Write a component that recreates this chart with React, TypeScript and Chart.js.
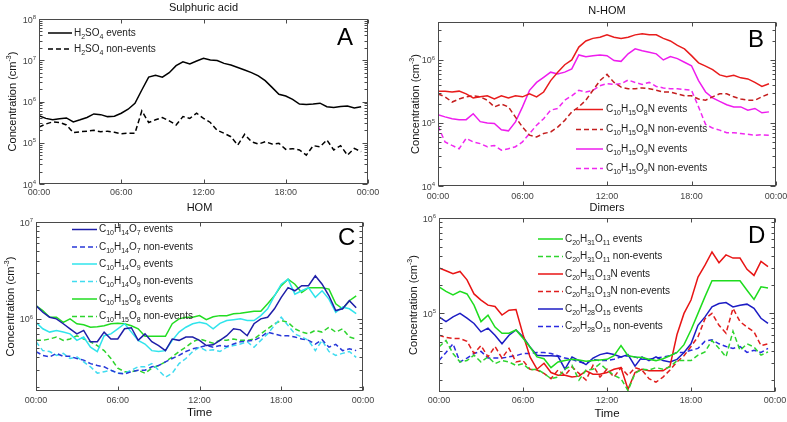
import React, { useEffect, useRef } from "react";
import { Chart, registerables } from "chart.js";
Chart.register(...registerables);

const W = 787;
const H = 422;
const FONT = '"Liberation Sans", Arial, Helvetica, sans-serif';
const YW = 30;
const XH = 20;

// ---------------- data ----------------
const HOURS = [0, 0.5, 1, 1.5, 2, 2.5, 3, 3.5, 4, 4.5, 5, 5.5, 6, 6.5, 7, 7.5, 8, 8.5, 9, 9.5, 10, 10.5, 11, 11.5,
  12, 12.5, 13, 13.5, 14, 14.5, 15, 15.5, 16, 16.5, 17, 17.5, 18, 18.5, 19, 19.5, 20, 20.5, 21, 21.5, 22, 22.5, 23, 23.5];
const X_TICKS = [0, 6, 12, 18, 24];
const X_TICK_LABELS = ["00:00", "06:00", "12:00", "18:00", "00:00"];

// A: sulphuric acid
const A_H2SO4_EV = [4.5e5, 3.9e5, 3.6e5, 3.8e5, 4.0e5, 3.2e5, 3.6e5, 4.1e5, 5.0e5, 4.8e5, 4.3e5, 4.4e5, 5.2e5, 6.5e5, 9.0e5, 1.9e6,
  3.9e6, 4.3e6, 3.9e6, 5.0e6, 7.4e6, 9.2e6, 8.1e6, 9.6e6, 1.11e7, 1.01e7, 9.8e6, 8.4e6, 7.7e6, 6.7e6, 5.8e6, 5.0e6,
  4.2e6, 3.2e6, 2.2e6, 1.5e6, 1.36e6, 1.13e6, 8.7e5, 8.5e5, 8.7e5, 9.1e5, 7.5e5, 7.2e5, 7.6e5, 7.8e5, 7.0e5, 7.5e5];
const A_H2SO4_NE = [2.4e5, 2.85e5, 3.2e5, 3.1e5, 2.7e5, 1.75e5, 1.85e5, 1.9e5, 2.0e5, 1.85e5, 1.9e5, 1.8e5, 1.65e5, 1.7e5, 1.7e5, 5.9e5,
  3.1e5, 3.6e5, 4.1e5, 3.4e5, 2.7e5, 4.3e5, 3.9e5, 5.2e5, 3.9e5, 3.1e5, 2.0e5, 1.7e5, 1.4e5, 8.8e4, 1.6e5, 1.06e5,
  9.3e4, 1.06e5, 9.3e4, 9.7e4, 6.9e4, 7.2e4, 6.7e4, 5.0e4, 8.5e4, 8.0e4, 1.17e5, 6.7e4, 8.5e4, 5.0e4, 7.3e4, 6.1e4];

// B: N-HOM
const B_O8N_EV = [3.2e5, 3.2e5, 3.1e5, 3.2e5, 2.9e5, 2.5e5, 2.6e5, 2.7e5, 2.4e5, 2.7e5, 2.5e5, 2.7e5, 2.6e5, 2.9e5, 2.6e5, 3.1e5,
  4.7e5, 6.4e5, 8.4e5, 1.0e6, 1.6e6, 2.0e6, 2.2e6, 2.3e6, 2.5e6, 2.3e6, 2.2e6, 2.3e6, 2.5e6, 2.6e6, 2.5e6, 2.5e6,
  2.2e6, 2.0e6, 1.7e6, 1.5e6, 1.17e6, 9.0e5, 8.0e5, 7.0e5, 5.8e5, 5.4e5, 5.7e5, 5.2e5, 5.0e5, 4.4e5, 3.8e5, 4.2e5];
const B_O8N_NE = [2.9e5, 2.6e5, 2.15e5, 2.4e5, 2.6e5, 2.7e5, 2.6e5, 2.3e5, 1.8e5, 2.0e5, 1.8e5, 1.24e5, 8.6e4, 6.4e4, 6.0e4, 6.8e4,
  7.2e4, 8.6e4, 1.1e5, 1.5e5, 1.8e5, 2.3e5, 3.3e5, 4.7e5, 5.9e5, 4.4e5, 3.7e5, 3.5e5, 3.5e5, 3.6e5, 3.5e5, 3.3e5,
  3.1e5, 3.1e5, 2.9e5, 2.7e5, 2.7e5, 2.4e5, 2.3e5, 2.6e5, 2.9e5, 2.9e5, 2.6e5, 2.4e5, 2.3e5, 2.3e5, 2.6e5, 2.9e5];
const B_O9N_EV = [1.35e5, 1.25e5, 1.17e5, 1.13e5, 1.13e5, 1.4e5, 1.05e5, 1.0e5, 9.8e4, 7.8e4, 7.5e4, 1.04e5, 1.8e5, 3.3e5, 4.4e5, 5.3e5,
  6.4e5, 6.0e5, 6.4e5, 7.2e5, 1.2e6, 1.12e6, 1.17e6, 1.2e6, 1.17e6, 9.8e5, 9.5e5, 1.25e6, 1.5e6, 1.4e6, 1.32e6, 1.25e6,
  1.0e6, 1.13e6, 1.05e6, 9.2e5, 8.1e5, 4.7e5, 3.1e5, 2.5e5, 2.2e5, 1.95e5, 1.8e5, 1.8e5, 1.6e5, 1.7e5, 1.45e5, 1.5e5];
const B_O9N_NE = [9.0e4, 5.0e4, 4.4e4, 3.9e4, 5.7e4, 5.0e4, 4.7e4, 4.2e4, 4.4e4, 3.7e4, 3.9e4, 4.2e4, 5.0e4, 6.8e4, 9.2e4, 1.17e5,
  1.6e5, 1.7e5, 2.3e5, 2.7e5, 3.3e5, 3.1e5, 3.3e5, 3.9e5, 4.2e5, 4.1e5, 4.2e5, 4.8e5, 4.4e5, 4.1e5, 4.4e5, 3.8e5,
  3.6e5, 3.5e5, 3.5e5, 3.4e5, 3.3e5, 1.8e5, 9.5e4, 8.3e4, 7.7e4, 7.0e4, 7.0e4, 6.8e4, 6.6e4, 6.4e4, 6.5e4, 6.4e4];

// C: HOM
const C_O7_EV = [1.37e6, 1.17e6, 1.04e6, 1.0e6, 8.9e5, 7.9e5, 7.0e5, 7.6e5, 5.8e5, 5.8e5, 7.3e5, 6.2e5, 6.2e5, 7.9e5, 8.1e5, 6.0e5,
  7.0e5, 5.8e5, 5.3e5, 4.7e5, 6.2e5, 6.0e5, 6.5e5, 6.5e5, 6.0e5, 5.3e5, 5.4e5, 6.0e5, 6.7e5, 7.9e5, 7.7e5, 6.7e5,
  8.9e5, 1.0e6, 1.04e6, 1.27e6, 1.67e6, 2.1e6, 1.95e6, 2.2e6, 2.2e6, 2.78e6, 2.28e6, 1.73e6, 1.22e6, 1.27e6, 1.54e6, 1.3e6];
const C_O7_NE = [4.6e5, 4.2e5, 4.05e5, 4.4e5, 4.1e5, 4.1e5, 3.9e5, 3.75e5, 3.45e5, 3.3e5, 3.2e5, 2.95e5, 2.75e5, 2.7e5, 2.85e5, 2.95e5,
  2.95e5, 3.2e5, 3.3e5, 3.6e5, 3.9e5, 4.2e5, 4.6e5, 4.9e5, 5.1e5, 5.3e5, 5.1e5, 5.3e5, 5.2e5, 5.5e5, 5.8e5, 5.9e5,
  6.0e5, 6.5e5, 7.3e5, 7.0e5, 6.7e5, 6.7e5, 6.5e5, 6.2e5, 6.0e5, 5.5e5, 6.1e5, 5.1e5, 5.45e5, 4.7e5, 4.9e5, 4.7e5];
const C_O9_EV = [9.2e5, 7.9e5, 7.3e5, 7.6e5, 7.3e5, 7.0e5, 6.0e5, 6.5e5, 5.1e5, 4.6e5, 6.7e5, 7.0e5, 7.9e5, 8.9e5, 7.3e5, 6.0e5,
  5.5e5, 4.7e5, 4.6e5, 4.7e5, 6.0e5, 7.3e5, 8.2e5, 8.9e5, 9.2e5, 8.9e5, 7.9e5, 9.0e5, 9.6e5, 9.8e5, 1.0e6, 9.6e5,
  9.6e5, 1.08e6, 1.27e6, 1.73e6, 2.28e6, 2.57e6, 1.8e6, 1.95e6, 2.1e6, 1.67e6, 1.95e6, 1.6e6, 1.17e6, 1.32e6, 1.27e6, 1.13e6];
const C_O9_NE = [5.8e5, 4.7e5, 4.6e5, 4.2e5, 4.4e5, 3.9e5, 4.05e5, 3.6e5, 3.2e5, 2.75e5, 2.85e5, 2.95e5, 2.75e5, 2.75e5, 2.95e5, 3.2e5,
  3.2e5, 3.45e5, 2.95e5, 2.5e5, 2.75e5, 3.45e5, 3.9e5, 4.6e5, 5.1e5, 4.7e5, 4.8e5, 4.6e5, 5.1e5, 5.3e5, 5.5e5, 5.8e5,
  5.1e5, 6.0e5, 7.0e5, 8.55e5, 1.04e6, 8.55e5, 7.0e5, 6.5e5, 6.0e5, 4.7e5, 6.0e5, 4.6e5, 4.2e5, 4.4e5, 4.6e5, 4.0e5];
const C_O8_EV = [1.37e6, 1.22e6, 1.04e6, 1.04e6, 9.2e5, 1.0e6, 8.9e5, 8.7e5, 8.2e5, 8.3e5, 8.5e5, 8.9e5, 9.0e5, 8.9e5, 8.5e5, 7.9e5,
  6.6e5, 6.6e5, 6.6e5, 6.6e5, 8.9e5, 1.0e6, 1.04e6, 1.04e6, 1.08e6, 9.8e5, 1.05e6, 1.08e6, 1.08e6, 1.13e6, 1.14e6, 1.17e6,
  1.2e6, 1.2e6, 1.43e6, 1.73e6, 2.2e6, 2.57e6, 2.28e6, 1.87e6, 2.1e6, 2.1e6, 2.1e6, 2.03e6, 1.43e6, 1.27e6, 1.54e6, 1.73e6];
const C_O8_NE = [6.0e5, 6.0e5, 6.2e5, 6.5e5, 6.0e5, 6.2e5, 6.7e5, 6.2e5, 5.8e5, 5.3e5, 4.7e5, 3.9e5, 3.1e5, 2.85e5, 2.85e5, 2.95e5,
  2.75e5, 3.1e5, 3.3e5, 3.6e5, 4.05e5, 4.6e5, 5.1e5, 5.8e5, 6.2e5, 5.9e5, 5.6e5, 6.0e5, 6.0e5, 6.2e5, 6.0e5, 6.0e5,
  6.2e5, 7.0e5, 7.9e5, 8.9e5, 9.6e5, 9.2e5, 7.9e5, 7.3e5, 7.0e5, 7.6e5, 7.3e5, 8.2e5, 7.3e5, 7.9e5, 6.5e5, 6.2e5];

// D: dimers
const D_O11_EV = [1.9e5, 1.7e5, 1.56e5, 1.7e5, 1.6e5, 1.22e5, 8.2e4, 9.6e4, 7.2e4, 6.2e4, 6.2e4, 6.7e4, 5.5e4, 4.45e4, 3.5e4, 3.35e4,
  2.7e4, 3.1e4, 3.2e4, 3.3e4, 3.25e4, 3.15e4, 3.2e4, 3.25e4, 3.3e4, 3.6e4, 4.6e4, 3.6e4, 3.5e4, 3.45e4, 3.3e4, 3.2e4,
  3.35e4, 3.6e4, 3.9e4, 4.7e4, 6.7e4, 1.0e5, 1.5e5, 2.2e5, 2.2e5, 2.2e5, 2.2e5, 2.2e5, 1.75e5, 1.4e5, 1.9e5, 1.85e5];
const D_O11_NE = [4.45e4, 5.2e4, 3.8e4, 3.1e4, 3.2e4, 3.65e4, 3.1e4, 3.5e4, 2.97e4, 3.2e4, 3.1e4, 2.85e4, 2.97e4, 2.55e4, 2.6e4, 2.35e4,
  2.07e4, 2.15e4, 2.6e4, 2.85e4, 2.0e4, 2.55e4, 2.6e4, 2.97e4, 2.55e4, 2.24e4, 2.07e4, 1.55e4, 2.35e4, 2.6e4, 2.55e4, 2.7e4,
  2.6e4, 2.75e4, 3.2e4, 3.2e4, 3.2e4, 3.65e4, 3.95e4, 5.2e4, 4.3e4, 3.5e4, 6.5e4, 4.1e4, 4.8e4, 4.45e4, 3.65e4, 3.95e4];
const D_O13N_EV = [3.0e5, 2.8e5, 2.6e5, 2.75e5, 2.25e5, 1.6e5, 1.38e5, 1.22e5, 1.18e5, 9.6e4, 1.08e5, 1.1e5, 6.0e4, 3.5e4, 2.6e4, 3.0e4,
  2.4e4, 2.25e4, 2.25e4, 2.15e4, 2.2e4, 2.5e4, 2.3e4, 2.3e4, 2.4e4, 2.6e4, 2.7e4, 1.6e4, 2.4e4, 2.6e4, 2.5e4, 2.5e4,
  2.5e4, 2.8e4, 6.0e4, 1.0e5, 1.38e5, 2.4e5, 3.2e5, 4.4e5, 3.4e5, 4.1e5, 3.8e5, 3.8e5, 2.9e5, 2.5e5, 3.5e5, 3.1e5];
const D_O13N_NE = [5.9e4, 5.6e4, 5.45e4, 5.45e4, 5.1e4, 3.8e4, 4.6e4, 3.5e4, 4.5e4, 3.4e4, 4.3e4, 3.1e4, 3.2e4, 2.6e4, 2.55e4, 2.35e4,
  2.07e4, 2.55e4, 2.24e4, 2.75e4, 2.35e4, 2.0e4, 2.85e4, 2.15e4, 2.6e4, 2.15e4, 2.7e4, 2.24e4, 2.7e4, 2.55e4, 2.07e4, 1.9e4,
  2.15e4, 2.55e4, 3.1e4, 3.6e4, 4.5e4, 5.7e4, 8.8e4, 1.0e5, 7.5e4, 6.2e4, 1.13e5, 8.2e4, 7.2e4, 6.4e4, 4.6e4, 4.8e4];
const D_O15_EV = [9.2e4, 8.2e4, 9.2e4, 1.0e5, 8.9e4, 7.85e4, 6.4e4, 7.0e4, 5.9e4, 4.8e4, 5.9e4, 6.7e4, 5.7e4, 4.45e4, 3.65e4, 3.6e4,
  3.6e4, 3.55e4, 2.6e4, 3.5e4, 3.2e4, 2.9e4, 3.4e4, 3.7e4, 3.85e4, 3.7e4, 3.5e4, 3.7e4, 2.8e4, 3.5e4, 3.2e4, 3.5e4,
  3.2e4, 3.1e4, 3.3e4, 3.9e4, 4.8e4, 7.5e4, 9.2e4, 1.17e5, 1.27e5, 1.3e5, 1.17e5, 1.22e5, 1.25e5, 1.13e5, 8.9e4, 7.85e4];
const D_O15_NE = [3.2e4, 3.9e4, 4.8e4, 3.1e4, 3.4e4, 3.8e4, 4.0e4, 3.4e4, 3.4e4, 3.4e4, 3.5e4, 3.6e4, 3.8e4, 3.8e4, 3.9e4, 3.9e4,
  3.8e4, 3.6e4, 3.4e4, 3.3e4, 3.1e4, 3.0e4, 3.3e4, 3.2e4, 3.2e4, 3.3e4, 3.5e4, 3.6e4, 3.5e4, 3.3e4, 3.3e4, 3.4e4,
  3.5e4, 3.6e4, 3.9e4, 3.9e4, 4.1e4, 4.3e4, 5.1e4, 5.3e4, 4.8e4, 4.5e4, 4.3e4, 4.5e4, 3.9e4, 4.1e4, 3.9e4, 4.3e4];

// ---------------- panels ----------------
type Series = { label: string; values: number[]; color: string; dash: boolean };
type Panel = {
  letter: string; letterX: number; letterY: number;
  title: string; titleY: number;
  area: { left: number; top: number; right: number; bottom: number };
  yMin: number; yMax: number; yTitleX: number;
  xPad: number; xTitle?: string; xTitleY?: number;
  legend: { x0: number; x1: number; tx: number; ys: number[] };
  series: Series[];
};

const PANELS: Panel[] = [
  {
    letter: "A", letterX: 337, letterY: 45, title: "Sulphuric acid", titleY: 7,
    area: { left: 39, top: 19, right: 368, bottom: 184 }, yMin: 1e4, yMax: 1e8, yTitleX: 12, xPad: 3,
    legend: { x0: 48, x1: 72, tx: 74, ys: [32, 48] },
    series: [
      { label: "H_{2}SO_{4} events", values: A_H2SO4_EV, color: "#000000", dash: false },
      { label: "H_{2}SO_{4} non-events", values: A_H2SO4_NE, color: "#000000", dash: true },
    ],
  },
  {
    letter: "B", letterX: 748, letterY: 47, title: "N-HOM", titleY: 10,
    area: { left: 438, top: 22, right: 776, bottom: 186 }, yMin: 1e4, yMax: 4e6, yTitleX: 415, xPad: 5,
    legend: { x0: 576, x1: 603, tx: 606, ys: [108.5, 128.5, 148, 167.5] },
    series: [
      { label: "C_{10}H_{15}O_{8}N events", values: B_O8N_EV, color: "#e81c1c", dash: false },
      { label: "C_{10}H_{15}O_{8}N non-events", values: B_O8N_NE, color: "#c41e1e", dash: true },
      { label: "C_{10}H_{15}O_{9}N events", values: B_O9N_EV, color: "#ee1cee", dash: false },
      { label: "C_{10}H_{15}O_{9}N non-events", values: B_O9N_NE, color: "#f028f0", dash: true },
    ],
  },
  {
    letter: "C", letterX: 338, letterY: 245, title: "HOM", titleY: 207,
    area: { left: 36, top: 222, right: 363, bottom: 391 }, yMin: 1.8e5, yMax: 1e7, yTitleX: 10, xPad: 4,
    xTitle: "Time", xTitleY: 412,
    legend: { x0: 72, x1: 97, tx: 99, ys: [228.5, 246, 263, 280.5, 298, 315.5] },
    series: [
      { label: "C_{10}H_{14}O_{7} events", values: C_O7_EV, color: "#1e1ea8", dash: false },
      { label: "C_{10}H_{14}O_{7} non-events", values: C_O7_NE, color: "#2838d8", dash: true },
      { label: "C_{10}H_{14}O_{9} events", values: C_O9_EV, color: "#30e4ec", dash: false },
      { label: "C_{10}H_{14}O_{9} non-events", values: C_O9_NE, color: "#40dcf0", dash: true },
      { label: "C_{10}H_{15}O_{8} events", values: C_O8_EV, color: "#22dc22", dash: false },
      { label: "C_{10}H_{15}O_{8} non-events", values: C_O8_NE, color: "#2ed42e", dash: true },
    ],
  },
  {
    letter: "D", letterX: 748, letterY: 243, title: "Dimers", titleY: 206.5,
    area: { left: 439, top: 218, right: 775, bottom: 392 }, yMin: 1.5e4, yMax: 1e6, yTitleX: 413, xPad: 3.5,
    xTitle: "Time", xTitleY: 413,
    legend: { x0: 538, x1: 563, tx: 565, ys: [238, 255.5, 273, 290.5, 308, 325.5] },
    series: [
      { label: "C_{20}H_{31}O_{11} events", values: D_O11_EV, color: "#1edc1e", dash: false },
      { label: "C_{20}H_{31}O_{11} non-events", values: D_O11_NE, color: "#2ed42e", dash: true },
      { label: "C_{20}H_{31}O_{13}N events", values: D_O13N_EV, color: "#e81414", dash: false },
      { label: "C_{20}H_{31}O_{13}N non-events", values: D_O13N_NE, color: "#e01e1e", dash: true },
      { label: "C_{20}H_{28}O_{15} events", values: D_O15_EV, color: "#1c1cc4", dash: false },
      { label: "C_{20}H_{28}O_{15} non-events", values: D_O15_NE, color: "#2a2ae0", dash: true },
    ],
  },
];

const DASH = [5, 3];
const LINE_W = 1.5;

// ---------------- drawing helpers ----------------
function drawRich(ctx: CanvasRenderingContext2D, text: string, x: number, y: number, size: number, align: string, color: string) {
  const parts: { t: string; k: string; w: number }[] = [];
  const re = /([_^])\{([^}]*)\}/g;
  let last = 0;
  let m: RegExpExecArray | null;
  while ((m = re.exec(text)) !== null) {
    if (m.index > last) parts.push({ t: text.slice(last, m.index), k: "n", w: 0 });
    parts.push({ t: m[2], k: m[1], w: 0 });
    last = re.lastIndex;
  }
  if (last < text.length) parts.push({ t: text.slice(last), k: "n", w: 0 });
  const small = Math.round(size * 0.68);
  let total = 0;
  for (const p of parts) {
    ctx.font = `${p.k === "n" ? size : small}px ${FONT}`;
    p.w = ctx.measureText(p.t).width;
    total += p.w;
  }
  let cx = align === "center" ? x - total / 2 : align === "right" ? x - total : x;
  ctx.fillStyle = color;
  ctx.textAlign = "left";
  ctx.textBaseline = "alphabetic";
  for (const p of parts) {
    ctx.font = `${p.k === "n" ? size : small}px ${FONT}`;
    const dy = p.k === "_" ? size * 0.32 : p.k === "^" ? -size * 0.42 : 0;
    ctx.fillText(p.t, cx, y + dy);
    cx += p.w;
  }
}

function decorPlugin(p: Panel) {
  return {
    id: "decor" + p.letter,
    afterDraw(chart: any) {
      const ctx: CanvasRenderingContext2D = chart.ctx;
      const ca = chart.chartArea;
      const xs = chart.scales.x;
      const ys = chart.scales.y;
      ctx.save();
      // frame
      ctx.strokeStyle = "#4a4a4a";
      ctx.lineWidth = 1;
      ctx.setLineDash([]);
      const L = Math.round(ca.left) + 0.5, R = Math.round(ca.right) - 0.5;
      const T = Math.round(ca.top) + 0.5, B = Math.round(ca.bottom) - 0.5;
      ctx.strokeRect(L, T, R - L, B - T);
      ctx.beginPath();
      for (const t of X_TICKS) {
        const x = Math.round(xs.getPixelForValue(t)) + 0.5;
        ctx.moveTo(x, B); ctx.lineTo(x, B - 4);
        ctx.moveTo(x, T); ctx.lineTo(x, T + 4);
      }
      const k0 = Math.floor(Math.log10(p.yMin));
      const k1 = Math.ceil(Math.log10(p.yMax));
      for (let k = k0; k <= k1; k++) {
        for (let mm = 1; mm <= 9; mm++) {
          const v = mm * Math.pow(10, k);
          if (v < p.yMin * 0.999 || v > p.yMax * 1.001) continue;
          const y = Math.round(ys.getPixelForValue(v)) + 0.5;
          const len = mm === 1 ? 5 : 3;
          ctx.moveTo(L, y); ctx.lineTo(L + len, y);
          ctx.moveTo(R, y); ctx.lineTo(R - len, y);
        }
      }
      ctx.stroke();
      // y tick labels (decades)
      for (let k = k0; k <= k1; k++) {
        const v = Math.pow(10, k);
        if (v < p.yMin * 0.999 || v > p.yMax * 1.001) continue;
        const y = ys.getPixelForValue(v);
        drawRich(ctx, "10^{" + k + "}", ca.left - 3, y + 3.5, 9, "right", "#444");
      }
      // panel title
      drawRich(ctx, p.title, (ca.left + ca.right) / 2, p.titleY + 4, 11, "center", "#111");
      // x title
      if (p.xTitle) drawRich(ctx, p.xTitle, (ca.left + ca.right) / 2, (p.xTitleY as number) + 4, 11.5, "center", "#111");
      // y title
      ctx.save();
      ctx.translate(p.yTitleX, (ca.top + ca.bottom) / 2);
      ctx.rotate(-Math.PI / 2);
      drawRich(ctx, "Concentration (cm^{-3})", 0, 4, 11, "center", "#111");
      ctx.restore();
      // big letter
      ctx.font = `24px ${FONT}`;
      ctx.fillStyle = "#000";
      ctx.textAlign = "left";
      ctx.textBaseline = "alphabetic";
      ctx.fillText(p.letter, p.letterX, p.letterY);
      // legend
      p.series.forEach((s, i) => {
        const y = p.legend.ys[i];
        ctx.beginPath();
        ctx.strokeStyle = s.color;
        ctx.lineWidth = LINE_W;
        ctx.setLineDash(s.dash ? DASH : []);
        ctx.moveTo(p.legend.x0, y + 1);
        ctx.lineTo(p.legend.x1, y + 1);
        ctx.stroke();
        ctx.setLineDash([]);
        drawRich(ctx, s.label, p.legend.tx, y + 3.5, 10, "left", "#222");
      });
      ctx.restore();
    },
  };
}

function buildConfig(p: Panel): any {
  return {
    type: "line",
    data: {
      datasets: p.series.map((s) => ({
        label: s.label,
        data: s.values.map((v, i) => ({ x: HOURS[i], y: v })),
        borderColor: s.color,
        backgroundColor: s.color,
        borderWidth: LINE_W,
        borderDash: s.dash ? DASH : [],
        pointRadius: 0,
        tension: 0,
        fill: false,
      })),
    },
    options: {
      animation: false,
      responsive: false,
      devicePixelRatio: 1,
      events: [],
      layout: {
        padding: {
          left: p.area.left - YW,
          top: p.area.top,
          right: W - p.area.right,
          bottom: H - p.area.bottom - XH,
        },
      },
      scales: {
        x: {
          type: "linear",
          min: 0,
          max: 24,
          afterBuildTicks: (s: any) => { s.ticks = X_TICKS.map((v) => ({ value: v })); },
          ticks: {
            autoSkip: false,
            maxRotation: 0,
            padding: p.xPad,
            color: "#444",
            font: { family: FONT, size: 9 },
            callback: (v: any) => X_TICK_LABELS[X_TICKS.indexOf(Number(v))],
          },
          grid: { display: false, drawTicks: false },
          border: { display: false },
          afterFit: (s: any) => { s.height = XH; s.paddingLeft = 0; s.paddingRight = 0; },
        },
        y: {
          type: "logarithmic",
          min: p.yMin,
          max: p.yMax,
          ticks: { display: false },
          grid: { display: false, drawTicks: false },
          border: { display: false },
          afterFit: (s: any) => { s.width = YW; s.paddingTop = 0; s.paddingBottom = 0; },
        },
      },
      plugins: { legend: { display: false }, tooltip: { enabled: false }, title: { display: false } },
    },
    plugins: [decorPlugin(p)],
  };
}

function PanelChart({ panel }: { panel: Panel }) {
  const ref = useRef<HTMLCanvasElement | null>(null);
  useEffect(() => {
    const chart = new Chart(ref.current as HTMLCanvasElement, buildConfig(panel));
    return () => chart.destroy();
  }, [panel]);
  return (
    <canvas
      ref={ref}
      width={W}
      height={H}
      style={{ position: "absolute", left: 0, top: 0, width: W, height: H }}
    />
  );
}

export default function App() {
  return (
    <div style={{ position: "absolute", left: 0, top: 0, width: W, height: H, background: "#fff", overflow: "hidden" }}>
      {PANELS.map((p) => (
        <PanelChart key={p.letter} panel={p} />
      ))}
    </div>
  );
}
